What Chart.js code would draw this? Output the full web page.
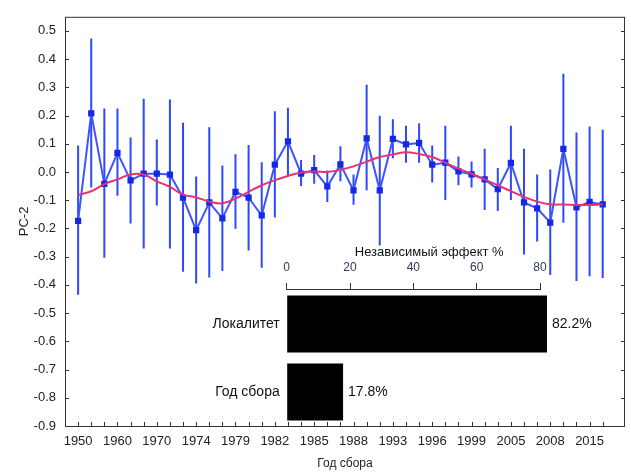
<!DOCTYPE html>
<html>
<head>
<meta charset="utf-8">
<script src="https://cdn.jsdelivr.net/npm/chart.js@4"></script>
<style>
body { margin: 0; background: #fff; }
#wrap { position: relative; width: 631px; height: 472px; }
#main { position: absolute; left: 0; top: 0; width: 631px; height: 472px; }
#inset { position: absolute; left: 180px; top: 230px; width: 420px; height: 200px; }
</style>
</head>
<body>
<div id="wrap">
  <div id="main"><canvas id="mainChart"></canvas></div>
  <div id="inset"><canvas id="insetChart"></canvas></div>
</div>
<script>
const years = [1950, 1953, 1957, 1960, 1963, 1967, 1970, 1971, 1973, 1974, 1976, 1977, 1979, 1980,
	1981, 1982, 1983, 1984, 1985, 1986, 1987, 1988, 1990, 1991, 1993, 1994, 1995, 1996, 1997, 1998,
	1999, 2001, 2003, 2005, 2006, 2007, 2008, 2010, 2012, 2015, 2017];
const mean = [-0.173, 0.208, -0.042, 0.068, -0.030, -0.006, -0.006, -0.009, -0.091, -0.206, -0.108,
	-0.164, -0.070, -0.091, -0.154, 0.026, 0.109, -0.006, 0.007, -0.051, 0.027, -0.065, 0.119, -0.065,
	0.117, 0.098, 0.103, 0.026, 0.033, 0.002, -0.008, -0.026, -0.061, 0.032, -0.108, -0.129, -0.179,
	0.082, -0.125, -0.106, -0.115];
const upper = [0.094, 0.473, 0.225, 0.225, 0.122, 0.260, 0.115, 0.257, 0.175, -0.016, 0.159, 0.023,
	0.063, 0.096, 0.035, 0.215, 0.228, 0.043, 0.060, 0.005, 0.091, -0.009, 0.309, 0.199, 0.187, 0.164,
	0.173, 0.094, 0.164, 0.055, 0.037, 0.082, 0.014, 0.164, 0.082, -0.009, 0.009, 0.348, 0.140, 0.161, 0.150];
const lower = [-0.435, -0.055, -0.304, -0.084, -0.182, -0.271, -0.119, -0.271, -0.353, -0.395, -0.374,
	-0.351, -0.201, -0.278, -0.339, -0.161, -0.014, -0.050, -0.042, -0.106, -0.033, -0.116, -0.065, -0.260,
	0.049, 0.033, 0.033, -0.037, -0.099, -0.047, -0.055, -0.135, -0.138, -0.099, -0.292, -0.246, -0.365,
	-0.180, -0.386, -0.369, -0.376];
const smooth = [-0.082, -0.068, -0.043, -0.026, -0.009, -0.009, -0.033, -0.053, -0.080, -0.090, -0.105,
	-0.111, -0.094, -0.070, -0.047, -0.029, -0.014, -0.002, 0.002, 0.000, 0.008, 0.020, 0.037, 0.053,
	0.062, 0.070, 0.064, 0.053, 0.033, 0.012, -0.006, -0.026, -0.047, -0.068, -0.088, -0.105, -0.115,
	-0.115, -0.117, -0.117, -0.115];
const yTicks = [-0.9, -0.8, -0.7, -0.6, -0.5, -0.4, -0.3, -0.2, -0.1, 0.0, 0.1, 0.2, 0.3, 0.4, 0.5];

const factors = ['Локалитет', 'Год сбора'];
const effect = [82.2, 17.8];
const effectTicks = [0, 20, 40, 60, 80];

Chart.defaults.font.family = '"Liberation Sans", Arial, sans-serif';
Chart.defaults.color = '#222';

// frame, inward ticks and error bars
const frame = {
	id: 'frame',
	beforeDatasetsDraw(chart) {
		const {ctx, chartArea: a, scales: {x, y}} = chart;
		ctx.save();
		ctx.strokeStyle = '#333';
		ctx.lineWidth = 1;
		ctx.strokeRect(a.left + 0.5, a.top + 0.5, a.right - a.left - 1, a.bottom - a.top);
		ctx.beginPath();
		for (let i = 0; i < years.length; i++) {
			const px = Math.round(x.getPixelForValue(i)) + 0.5;
			ctx.moveTo(px, a.bottom);
			ctx.lineTo(px, a.bottom - 4);
		}
		y.ticks.forEach(t => {
			const py = Math.round(y.getPixelForValue(t.value)) + 0.5;
			ctx.moveTo(a.left, py);
			ctx.lineTo(a.left + 4, py);
			ctx.moveTo(a.right, py);
			ctx.lineTo(a.right - 4, py);
		});
		ctx.stroke();

		ctx.strokeStyle = '#2f48ff';
		ctx.lineWidth = 2;
		ctx.beginPath();
		for (let i = 0; i < years.length; i++) {
			const px = x.getPixelForValue(i);
			ctx.moveTo(px, y.getPixelForValue(upper[i]));
			ctx.lineTo(px, y.getPixelForValue(lower[i]));
		}
		ctx.stroke();
		ctx.restore();
	}
};

new Chart(document.getElementById('mainChart'), {
	type: 'line',
	data: {
		datasets: [{
			data: smooth.map((v, i) => ({x: i, y: v})),
			borderColor: '#e8336f',
			borderWidth: 2,
			pointRadius: 0,
			tension: 0.4
		}, {
			data: mean.map((v, i) => ({x: i, y: v})),
			borderColor: '#3d55ff',
			borderWidth: 2,
			pointStyle: 'rect',
			pointRadius: 3,
			pointBackgroundColor: '#1428e6',
			pointBorderColor: '#1428e6',
			tension: 0
		}]
	},
	options: {
		responsive: true,
		maintainAspectRatio: false,
		animation: false,
		layout: {padding: {top: 13, right: 1, left: 0, bottom: 0}},
		plugins: {legend: {display: false}, tooltip: {enabled: false}},
		scales: {
			x: {
				type: 'linear',
				min: -1,
				max: 41.7,
				afterBuildTicks: s => { s.ticks = years.map((y, i) => ({value: i})).filter(t => t.value % 3 === 0); },
				afterFit: s => { s.height = 46; },
				grid: {display: false, drawTicks: false},
				border: {display: false},
				ticks: {
					autoSkip: false,
					maxRotation: 0,
					padding: 8,
					font: {size: 13},
					color: '#222',
					callback: v => years[v]
				},
				title: {display: true, text: 'Год сбора', font: {size: 12}, color: '#222', padding: {top: 4, bottom: 1}}
			},
			y: {
				min: -0.9,
				max: 0.55,
				afterBuildTicks: s => { s.ticks = yTicks.map(v => ({value: v})); },
				afterFit: s => { s.width = 65; },
				grid: {display: false, drawTicks: false},
				border: {display: false},
				ticks: {
					padding: 9,
					font: {size: 13},
					color: '#222',
					callback: v => v.toFixed(1)
				},
				title: {display: true, text: 'PC-2', font: {size: 13}, color: '#222', padding: {top: 17}}
			}
		}
	},
	plugins: [frame]
});

// inset: axis line up to 80 and value labels
const insetDeco = {
	id: 'insetDeco',
	afterDatasetsDraw(chart) {
		const {ctx, chartArea: a, scales: {x}} = chart;
		ctx.save();
		ctx.strokeStyle = '#333';
		ctx.lineWidth = 1;
		ctx.beginPath();
		const y0 = Math.round(a.top) - 0.5;
		ctx.moveTo(x.getPixelForValue(0), y0);
		ctx.lineTo(x.getPixelForValue(80) + 0.5, y0);
		ctx.stroke();
		ctx.fillStyle = '#111';
		ctx.font = '14px "Liberation Sans", Arial, sans-serif';
		ctx.textBaseline = 'middle';
		chart.getDatasetMeta(0).data.forEach((bar, i) => {
			ctx.fillText(effect[i].toFixed(1) + '%', bar.x + 5, bar.y);
		});
		ctx.restore();
	}
};

new Chart(document.getElementById('insetChart'), {
	type: 'bar',
	data: {
		labels: factors,
		datasets: [{
			data: effect,
			backgroundColor: '#000',
			barPercentage: 0.84,
			categoryPercentage: 1
		}]
	},
	options: {
		indexAxis: 'y',
		responsive: true,
		maintainAspectRatio: false,
		animation: false,
		layout: {padding: {top: 0, right: 28.3, left: 0, bottom: 4}},
		plugins: {legend: {display: false}, tooltip: {enabled: false}},
		scales: {
			x: {
				position: 'top',
				min: 0,
				max: 90,
				afterBuildTicks: s => { s.ticks = effectTicks.map(v => ({value: v})); },
				afterFit: s => { s.height = 60; },
				grid: {drawOnChartArea: false, drawTicks: true, tickLength: 7, color: '#333'},
				border: {display: false},
				ticks: {padding: 8, font: {size: 12}, color: '#2b3a55'},
				title: {display: true, text: 'Независимый эффект %', font: {size: 13}, color: '#111', padding: {top: 15}}
			},
			y: {
				afterFit: s => {
					s.width = 106.7;
					s.paddingTop = 0;
					s.paddingBottom = 0;
				},
				grid: {display: false, drawTicks: false},
				border: {display: false},
				ticks: {padding: 7, font: {size: 14}, color: '#111'}
			}
		}
	},
	plugins: [insetDeco]
});
</script>
</body>
</html>
